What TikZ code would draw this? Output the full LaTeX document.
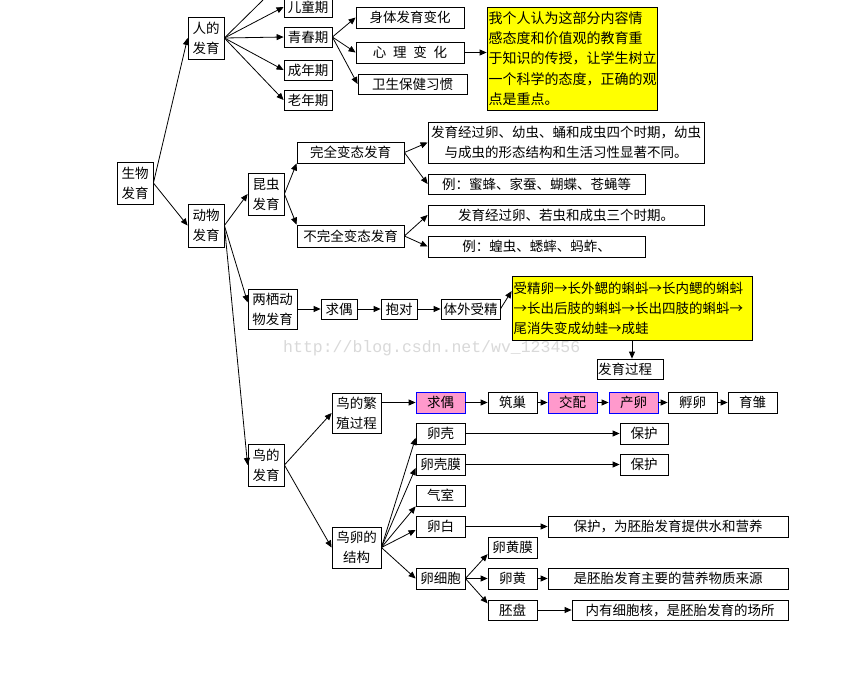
\documentclass[tikz,border=0pt]{standalone}
\usepackage{fontspec}
\newfontfamily\zh{Noto Sans CJK SC}
\newfontfamily\wmfont{Liberation Mono}
\usetikzlibrary{arrows.meta}
\definecolor{ybg}{HTML}{FFFF00}
\definecolor{pk}{HTML}{FF99CC}
\definecolor{bl}{HTML}{0000FF}
\begin{document}
\begin{tikzpicture}[x=1pt,y=-1pt,
  bx/.style={draw,line width=0.8pt,inner sep=0pt,align=center,font=\zh\fontsize{13.5}{20}\selectfont},
  sz/.style 2 args={minimum width=#1pt,minimum height=#2pt},
  yel/.style={bx,fill=ybg,align=left,inner xsep=1.5pt},
  pinkbox/.style={bx,fill=pk,draw=bl},
  arr/.style={draw,line width=0.8pt,-{Triangle[length=7pt,width=6pt]}},
  ln/.style={draw,line width=0.8pt}]
\clip (0,0) rectangle (844,673);
\fill[white] (0,0) rectangle (844,673);
% watermark
\node[font=\wmfont\fontsize{16.5}{18}\selectfont,text=gray!30,anchor=west,inner sep=0pt] (wm) at (283,348) {http://blog.csdn.net/wv\_123456};
% root and human
\node[bx,sz={36}{42}] (sw) at (135,183) {生物\\发育};
\node[bx,sz={36}{42}] (rd) at (206,38) {人的\\发育};
\node[bx,sz={48}{20}] (et) at (308,7) {儿童期};
\node[bx,sz={48}{20}] (qc) at (308,37) {青春期};
\node[bx,sz={48}{20}] (cn) at (308,70) {成年期};
\node[bx,sz={48}{20}] (lm2) at (308,100) {老年期};
\node[bx,sz={108}{21}] (st) at (410,17.5) {身体发育变化};
\node[bx,sz={108}{21}] (xl) at (410,52.5) {心\enspace 理\enspace 变\enspace 化};
\node[bx,sz={109}{20}] (ws) at (412.5,84) {卫生保健习惯};
\node[yel,sz={170}{103},text width=167pt,font=\zh\fontsize{14}{20.4}\selectfont] (y1) at (572,58.5) {我个人认为这部分内容情\\感态度和价值观的教育重\\于知识的传授，让学生树立\\一个科学的态度，正确的观\\点是重点。};
\coordinate (up) at (263,0);
% animals
\node[bx,sz={36}{43}] (dw) at (206,225.5) {动物\\发育};
\node[bx,sz={36}{42}] (kc) at (266,194) {昆虫\\发育};
\node[bx,sz={107}{21}] (wq) at (350.5,152.5) {完全变态发育};
\node[bx,sz={107}{22}] (bw) at (350.5,236) {不完全变态发育};
\node[bx,sz={276}{41}] (t1) at (566,142.5) {发育经过卵、幼虫、蛹和成虫四个时期，幼虫\\与成虫的形态结构和生活习性显著不同。};
\node[bx,sz={217}{20}] (t2) at (536.5,184) {例：蜜蜂、家蚕、蝴蝶、苍蝇等};
\node[bx,sz={276}{20}] (t3) at (566,215) {发育经过卵、若虫和成虫三个时期。};
\node[bx,sz={217}{21}] (t4) at (536.5,246.5) {例：蝗虫、蟋蟀、蚂蚱、};
% amphibians
\node[bx,sz={49}{40}] (ly) at (272.5,309) {两栖动\\物发育};
\node[bx,sz={36}{20}] (aq) at (339,309) {求偶};
\node[bx,sz={36}{20}] (bd) at (399,309) {抱对};
\node[bx,sz={59}{20}] (tw) at (470.5,309) {体外受精};
\node[yel,sz={240}{64},text width=237pt] (y2) at (632,308) {受精卵→长外鳃的蝌蚪→长内鳃的蝌蚪\\→长出后肢的蝌蚪→长出四肢的蝌蚪→\\尾消失变成幼蛙→成蛙};
\node[bx,sz={66}{20},align=left,text width=64pt,inner xsep=1pt] (fy) at (630,369) {发育过程};
% birds
\node[bx,sz={36}{42}] (nd) at (266,465) {鸟的\\发育};
\node[bx,sz={49}{40}] (fz) at (356.5,413) {鸟的繁\\殖过程};
\node[pinkbox,sz={49}{21}] (b1) at (440.5,402.5) {求偶};
\node[bx,sz={49}{21}] (b2) at (512.5,402.5) {筑巢};
\node[pinkbox,sz={49}{21}] (b3) at (572.5,402.5) {交配};
\node[pinkbox,sz={49}{21}] (b4) at (633.5,402.5) {产卵};
\node[bx,sz={49}{21}] (b5) at (692.5,402.5) {孵卵};
\node[bx,sz={49}{21}] (b6) at (752.5,402.5) {育雏};
\node[bx,sz={49}{41}] (jg) at (356.5,547.5) {鸟卵的\\结构};
\node[bx,sz={49}{21}] (lk) at (440.5,433.5) {卵壳};
\node[bx,sz={49}{21}] (lkm) at (440.5,464.5) {卵壳膜};
\node[bx,sz={49}{21}] (qs) at (440.5,495.5) {气室};
\node[bx,sz={49}{21}] (lb) at (440.5,526.5) {卵白};
\node[bx,sz={49}{21}] (lx) at (440.5,578.5) {卵细胞};
\node[bx,sz={49}{21}] (hm) at (512.5,547.5) {卵黄膜};
\node[bx,sz={49}{21}] (lh) at (512.5,578.5) {卵黄};
\node[bx,sz={49}{20}] (pp) at (512.5,610) {胚盘};
\node[bx,sz={48}{21}] (p1) at (644,433.5) {保护};
\node[bx,sz={48}{21}] (p2) at (644,464.5) {保护};
\node[bx,sz={240}{21}] (p3) at (668,526.5) {保护，为胚胎发育提供水和营养};
\node[bx,sz={240}{21}] (p4) at (668,578.5) {是胚胎发育主要的营养物质来源};
\node[bx,sz={216}{20}] (p5) at (680,610) {内有细胞核，是胚胎发育的场所};
% connectors
\draw[arr] (sw.east) -- (rd.west);
\draw[arr] (sw.east) -- (dw.west);
\draw[ln] (rd.east) -- (up);
\foreach \t in {et,qc,cn,lm2} \draw[arr] (rd.east) -- (\t.west);
\foreach \t in {st,xl,ws} \draw[arr] (qc.east) -- (\t.west);
\draw[arr] (xl.east) -- (xl.east -| y1.west);
\draw[arr] (dw.east) -- (kc.west);
\draw[arr] (dw.east) -- (ly.165);
\draw[arr] (dw.east) -- (nd.west);
\draw[arr] (kc.east) -- (wq.south west);
\draw[arr] (kc.east) -- (bw.north west);
\draw[arr] (wq.east) -- (t1.west);
\draw[arr] (wq.east) -- (t2.west);
\draw[arr] (bw.east) -- (t3.west);
\draw[arr] (bw.east) -- (t4.west);
\draw[arr] (ly.east) -- (aq.west);
\draw[arr] (aq.east) -- (bd.west);
\draw[arr] (bd.east) -- (tw.west);
\draw[arr] (tw.east) -- (y2.172);
\draw[arr] (y2.south) -- (y2.south |- fy.north);
\draw[arr] (nd.east) -- (fz.west);
\draw[arr] (nd.east) -- (jg.west);
\draw[arr] (fz.east |- b1.west) -- (b1.west);
\draw[arr] (b1.east) -- (b2.west);
\draw[arr] (b2.east) -- (b3.west);
\draw[arr] (b3.east) -- (b4.west);
\draw[arr] (b4.east) -- (b5.west);
\draw[arr] (b5.east) -- (b6.west);
\draw[arr] (jg.east) -- (lk.190);
\draw[arr] (jg.east) -- (lkm.188);
\draw[arr] (jg.east) -- (qs.south west);
\draw[arr] (jg.east) -- (lb.188);
\draw[arr] (jg.east) -- (lx.west);
\draw[arr] (lx.east) -- (hm.195);
\draw[arr] (lx.east) -- (lh.west);
\draw[arr] (lx.east) -- (pp.165);
\draw[arr] (lk.east) -- (p1.west);
\draw[arr] (lkm.east) -- (p2.west);
\draw[arr] (lb.east) -- (p3.west);
\draw[arr] (lh.east) -- (p4.west);
\draw[arr] (pp.east) -- (p5.west);
\end{tikzpicture}
\end{document}
